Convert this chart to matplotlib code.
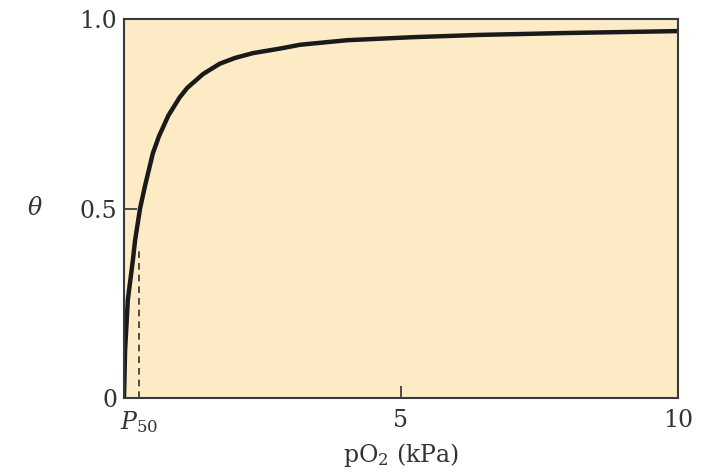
import matplotlib
matplotlib.use('Agg')
import matplotlib.pyplot as plt

matplotlib.rcParams.update({'font.family': 'DejaVu Serif', 'mathtext.fontset': 'dejavuserif'})

# oxygen binding curve
po2 = [0.0, 0.02, 0.07, 0.16, 0.2, 0.29, 0.38, 0.52, 0.63, 0.8, 1.0, 1.14, 1.43, 1.73, 2.0, 2.33, 2.82, 3.18, 4.03, 5.22, 6.43, 8.0, 10.0]
theta = [0.0, 0.126, 0.26, 0.363, 0.416, 0.50, 0.56, 0.645, 0.69, 0.745, 0.792, 0.818, 0.855, 0.882, 0.897, 0.91, 0.922, 0.932, 0.944, 0.952, 0.958, 0.963, 0.968]
p50 = 0.28
p50_top = 0.39

xticks = [p50, 5, 10]
xticklabels = ['$P_{50}$', '5', '10']
yticks = [0, 0.5, 1.0]
yticklabels = ['0', '0.5', '1.0']

fig = plt.figure(figsize=(7.06, 4.74), dpi=100)
ax = fig.add_axes([0.1756, 0.160, 0.7847, 0.800])
ax.set_facecolor('#fdebc6')

ax.plot(po2, theta, color='#1a1a1a', lw=3.2, solid_joinstyle='round')
ax.plot([p50, p50], [0, p50_top], color='#333333', lw=1.2, ls=(0, (4, 3)))

ax.set_xlim(0, 10)
ax.set_ylim(0, 1.0)
ax.set_xticks(xticks)
ax.set_xticklabels(xticklabels, fontsize=17)
ax.set_yticks(yticks)
ax.set_yticklabels(yticklabels, fontsize=17)
ax.tick_params(direction='in', length=9, width=1.2, colors='#333333', labelcolor='#333333', pad=5)
ax.tick_params(axis='x', pad=8)
# only the 0.5 and 5 ticks carry a mark
for t in ax.xaxis.get_major_ticks()[::2]:
    t.tick1line.set_visible(False)
for t in ax.yaxis.get_major_ticks()[::2]:
    t.tick1line.set_visible(False)
for s in ax.spines.values():
    s.set_color('#3a3a3a')
    s.set_linewidth(1.5)

ax.set_xlabel('pO$_2$ (kPa)', fontsize=17, color='#333333', labelpad=4)
ax.set_ylabel(r'$\theta$', fontsize=17, color='#333333', rotation=0, labelpad=32, va='center')

fig.savefig('out.png', dpi=100)
